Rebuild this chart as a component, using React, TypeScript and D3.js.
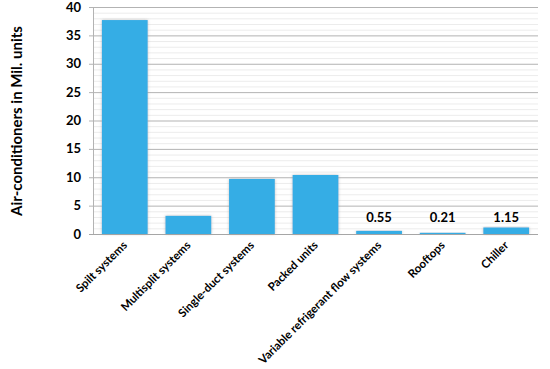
import { useEffect, useRef } from "react";
import * as d3 from "d3";

const categories = [
  "Spilt systems",
  "Multisplit systems",
  "Single-duct systems",
  "Packed units",
  "Variable refrigerant flow systems",
  "Rooftops",
  "Chiller",
];
const values = [37.7, 3.2, 9.7, 10.4, 0.55, 0.21, 1.15];
const labelled = ["0.55", "0.21", "1.15"];
const yTicks = [0, 5, 10, 15, 20, 25, 30, 35, 40];
const yTitle = "Air-conditioners in Mil. units";

const App = () => {
  const ref = useRef<SVGSVGElement>(null);

  useEffect(() => {
    if (!ref.current) return;
    const width = 550;
    const marginTop = 7;
    const marginLeft = 93;
    const marginRight = 12;
    const plotBottom = 234;
    const font = "Lato, 'Open Sans', sans-serif";

    const svg = d3.select(ref.current);
    svg.selectAll("*").remove();

    const x = d3
      .scaleBand<string>()
      .domain(categories)
      .range([marginLeft, width - marginRight])
      .paddingInner(0.28)
      .paddingOuter(0.14);

    const y = d3.scaleLinear().domain([0, 40]).range([plotBottom, marginTop]);

    // minor grid
    svg
      .append("g")
      .selectAll("line")
      .data(d3.range(1, 40).filter((d) => d % 5 !== 0))
      .join("line")
      .attr("x1", marginLeft)
      .attr("x2", width - marginRight)
      .attr("y1", (d) => y(d) + 0.5)
      .attr("y2", (d) => y(d) + 0.5)
      .attr("stroke", "#ececec");

    // major grid
    svg
      .append("g")
      .selectAll("line")
      .data(yTicks)
      .join("line")
      .attr("x1", marginLeft - 4)
      .attr("x2", width - marginRight)
      .attr("y1", (d) => y(d) + 0.5)
      .attr("y2", (d) => y(d) + 0.5)
      .attr("stroke", (d) => (d === 0 ? "#a6a6a6" : "#b3b3b3"));

    svg
      .append("line")
      .attr("x1", marginLeft + 0.5)
      .attr("x2", marginLeft + 0.5)
      .attr("y1", y(40))
      .attr("y2", y(0))
      .attr("stroke", "#b3b3b3");

    const f = svg
      .append("defs")
      .append("filter")
      .attr("id", "glow")
      .attr("x", "-20%")
      .attr("y", "-20%")
      .attr("width", "140%")
      .attr("height", "140%");
    f.append("feDropShadow")
      .attr("dx", 0)
      .attr("dy", 0)
      .attr("stdDeviation", 1.5)
      .attr("flood-color", "#999")
      .attr("flood-opacity", 0.6);

    svg
      .append("g")
      .selectAll("rect")
      .data(values)
      .join("rect")
      .attr("x", (_, i) => x(categories[i])!)
      .attr("width", x.bandwidth())
      .attr("y", (d) => y(d))
      .attr("height", (d) => y(0) - y(d))
      .attr("fill", "#36ade5")
      .attr("filter", "url(#glow)");

    // value labels on the small bars
    svg
      .append("g")
      .selectAll("text")
      .data(labelled)
      .join("text")
      .attr("x", (_, i) => x(categories[4 + i])! + x.bandwidth() / 2)
      .attr("y", 222)
      .attr("text-anchor", "middle")
      .attr("font-family", font)
      .attr("font-weight", "bold")
      .attr("font-size", 13)
      .text((d) => d);

    // y tick labels
    svg
      .append("g")
      .selectAll("text")
      .data(yTicks)
      .join("text")
      .attr("x", 81)
      .attr("y", (d) => y(d))
      .attr("dy", "0.35em")
      .attr("text-anchor", "end")
      .attr("font-family", font)
      .attr("font-weight", "bold")
      .attr("font-size", 13)
      .text((d) => d);

    // x labels
    svg
      .append("g")
      .selectAll("text")
      .data(categories)
      .join("text")
      .attr(
        "transform",
        (d) => `translate(${x(d)! + x.bandwidth() / 2 + 3},${plotBottom + 12}) rotate(-45)`
      )
      .attr("text-anchor", "end")
      .attr("font-family", font)
      .attr("font-weight", "bold")
      .attr("font-size", 11.5)
      .text((d) => d);

    svg
      .append("text")
      .attr("transform", `translate(22,121) rotate(-90)`)
      .attr("text-anchor", "middle")
      .attr("font-family", font)
      .attr("font-weight", "bold")
      .attr("font-size", 15)
      .text(yTitle);
  }, []);

  return (
    <svg
      ref={ref}
      width={550}
      height={369}
      style={{ display: "block", position: "absolute", left: 0, top: 0 }}
    />
  );
};

export default App;
